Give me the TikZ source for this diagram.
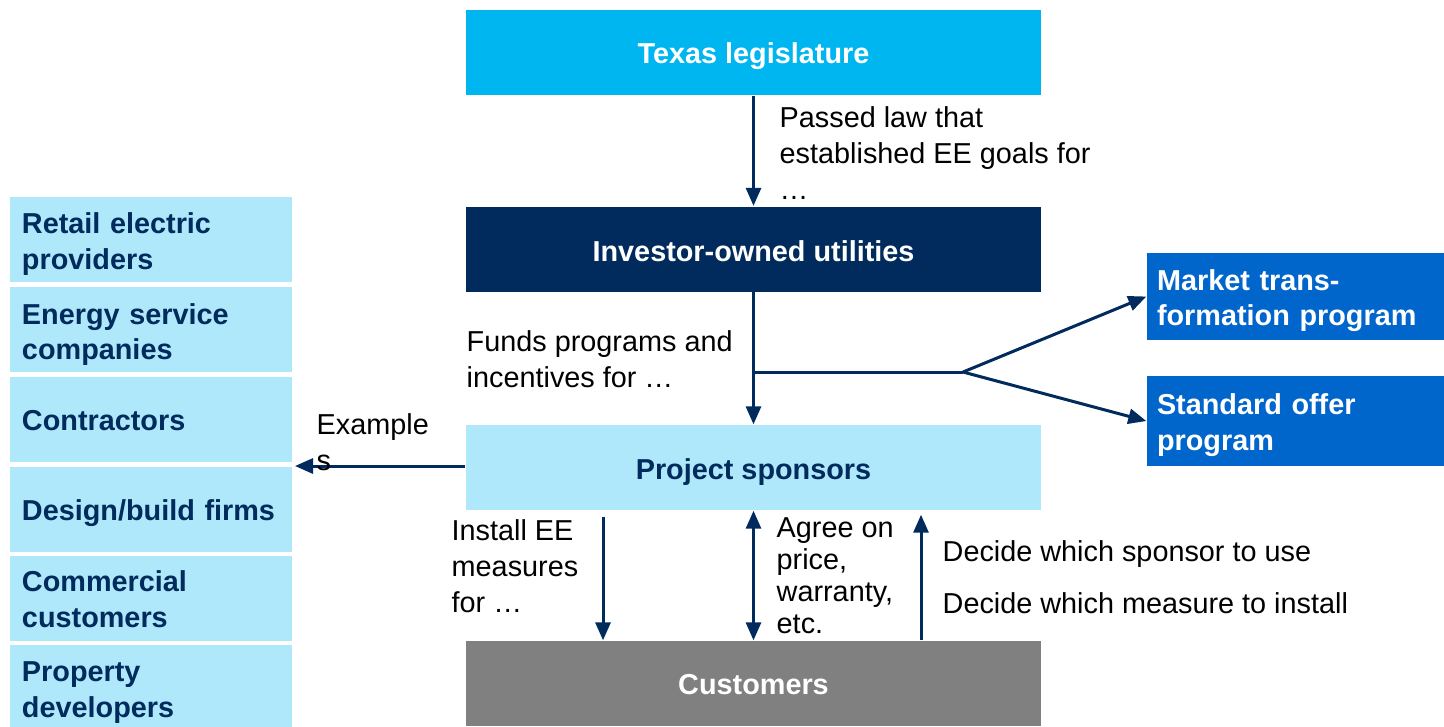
\documentclass[tikz,border=0pt]{standalone}
\usepackage{fontspec}
\setmainfont{Liberation Sans}
\usepackage{xcolor}
\usetikzlibrary{arrows.meta}
\definecolor{navy}{HTML}{002B5C}
\definecolor{skyblue}{HTML}{00B6F0}
\definecolor{paleblue}{HTML}{B0E8FB}
\definecolor{midblue}{HTML}{0066CC}
\definecolor{boxgray}{HTML}{808080}

\begin{document}
\begin{tikzpicture}[
    font=\fontsize{8.2}{10.2}\selectfont,
    flow/.style={-{Triangle[length=0.18cm,width=0.15cm]}, line width=0.03cm, draw=navy},
    mainbox/.style={minimum width=5.75cm, minimum height=0.85cm, inner sep=0,
      font=\fontsize{8.2}{10.2}\selectfont\bfseries,
      execute at begin node={\rule{0pt}{#1}}},
    mainbox/.default=0.29cm,
    sidebox/.style={fill=paleblue, text=navy, minimum height=0.85cm, inner xsep=0.12cm,
      inner ysep=0, text width=2.58cm, align=left, font=\fontsize{8.2}{10.2}\selectfont\bfseries,
      execute at begin node={\rule{0pt}{#1}}},
    sidebox/.default=0.31cm,
    progbox/.style={fill=midblue, text=white, inner xsep=0.1cm, inner ysep=0,
      text width=2.77cm, align=left, font=\fontsize{8.2}{10.2}\selectfont\bfseries,
      execute at begin node={\rule{0pt}{0.29cm}}},
    note/.style={inner sep=0, anchor=west, align=left}
  ]
  \useasboundingbox (0,0) rectangle (14.44,-7.26);

  % main column
  \node[mainbox, fill=skyblue, text=white] (texas) at (7.535,-0.525) {Texas legislature};
  \node[mainbox=0.25cm, fill=navy, text=white] (utilities) at (7.535,-2.49) {Investor-owned utilities};
  \node[mainbox, fill=paleblue, text=navy] (sponsors) at (7.535,-4.675) {Project sponsors};
  \node[mainbox=0.23cm, fill=boxgray, text=white] (customers) at (7.535,-6.835) {Customers};

  % examples of sponsors
  \node[sidebox] (retail) at (1.51,-2.39) {Retail electric\\providers};
  \node[sidebox] (esco) at (1.51,-3.295) {Energy service\\companies};
  \node[sidebox=0.22cm] (contractors) at (1.51,-4.195) {Contractors};
  \node[sidebox=0.29cm] (design) at (1.51,-5.09) {Design/build firms};
  \node[sidebox=0.24cm] (commercial) at (1.51,-5.98) {Commercial\\customers};
  \node[sidebox] (developers) at (1.51,-6.87) {Property\\developers};

  % programs
  \node[progbox, minimum height=0.87cm] (market) at (12.955,-2.965) {Market trans-\\formation program};
  \node[progbox, minimum height=0.9cm] (standard) at (12.955,-4.21) {Standard offer\\program};

  % arrows
  \draw[flow] (texas) -- (utilities);
  \draw[flow] (utilities) -- (sponsors);
  \coordinate (split) at (7.535,-3.72);
  \coordinate (fork) at (9.63,-3.72);
  \draw[line width=0.03cm, navy] (split) -- (fork);
  \draw[flow] (fork) -- (market.west);
  \draw[flow] (fork) -- (standard.west);
  \coordinate (examplesend) at (2.95,-4.66);
  \draw[flow] (sponsors.west |- examplesend) -- (examplesend);
  \draw[flow] ([xshift=-1.505cm,yshift=-0.06cm]sponsors.south) -- ([xshift=-1.505cm]customers.north);
  \draw[flow, {Triangle[length=0.18cm,width=0.15cm]}-{Triangle[length=0.18cm,width=0.15cm]}]
    (sponsors.south) -- (customers.north);
  \draw[flow] ([xshift=1.675cm]customers.north) -- ([xshift=1.675cm,yshift=-0.04cm]sponsors.south);

  % labels
  \node[note] (passed) at (7.79,-1.53) {Passed law that\\established EE goals for\\…};
  \node[note] (funds) at (4.66,-3.59) {Funds programs and\\incentives for …};
  \node[note] (examples) at (3.16,-4.42) {Example\\s};
  \node[note] (install) at (4.51,-5.66) {Install EE\\measures\\for …};
  \node[note, font=\fontsize{8.2}{9.1}\selectfont] (agree) at (7.76,-5.755) {Agree on\\price,\\warranty,\\etc.};
  \node[note] (choosesponsor) at (9.42,-5.54) {Decide which sponsor to use};
  \node[note] (choosemeasure) at (9.42,-6.03) {Decide which measure to install};
\end{tikzpicture}
\end{document}
